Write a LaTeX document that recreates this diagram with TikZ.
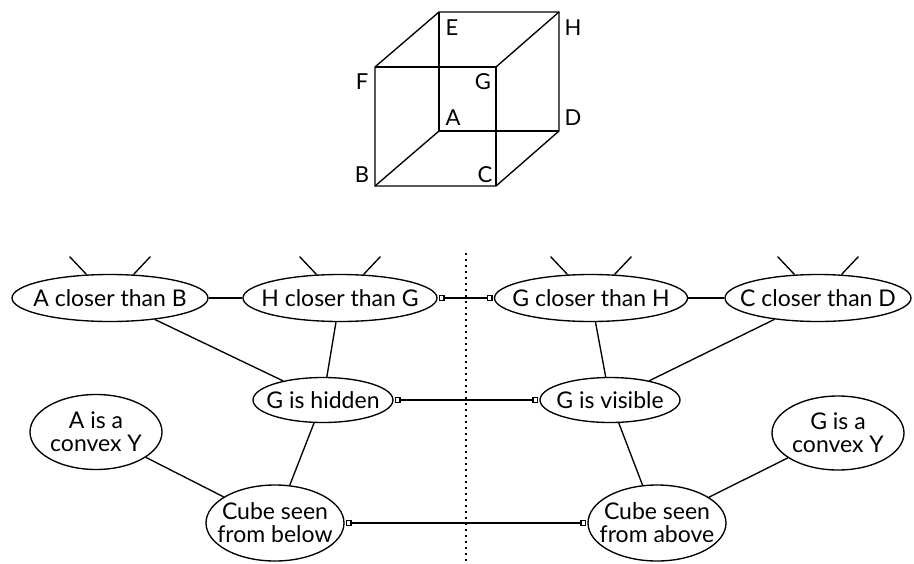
\documentclass[tikz,border=0pt]{standalone}
\usepackage{fontspec}
\setmainfont{Lato}
\usetikzlibrary{shapes.geometric,arrows.meta}

\begin{document}
\begin{tikzpicture}[x=1pt, y=-1pt, line width=1.35pt,
	belief/.style={ellipse, draw, inner xsep=-30pt, inner ysep=-6pt, minimum width=194, minimum height=47, font=\fontsize{23}{23}\selectfont},
	small belief/.style={belief, minimum width=140, minimum height=45},
	two line/.style={belief, align=center, minimum width=138, minimum height=76, font=\fontsize{23}{23}\selectfont},
	vertex label/.style={font=\fontsize{22}{22}\selectfont, inner sep=0pt},
	inhibit/.style={{Square[open,length=6pt,width=6pt]}-{Square[open,length=6pt,width=6pt]}, shorten <=1pt, shorten >=1pt},
	divider/.style={line width=1.5pt, dash pattern=on 1.8pt off 4.2pt}]
	%\draw[help lines] (0,0) grid (914,563);
	\useasboundingbox (0,0) rectangle (914,563);
	% the cube
	\coordinate (A) at (439,131);
	\coordinate (B) at (375,186);
	\coordinate (C) at (496,186);
	\coordinate (D) at (559,131);
	\coordinate (E) at (439,12);
	\coordinate (F) at (375,67);
	\coordinate (G) at (496,67);
	\coordinate (H) at (559,12);
	\draw (B) -- (C) -- (D) -- (H) -- (E) -- (F) -- cycle;
	\draw (F) -- (G) -- (C);
	\draw (G) -- (H);
	\draw (E) -- (A) -- (D);
	\draw (A) -- (B);
	\foreach \v/\x/\y in {A/453/118, B/362/175, C/485/175, D/573/118,
	                      E/452/28, F/362/82, G/483/82, H/573/28}{
	  \node[vertex label] (l\v) at (\x,\y) {\v};
	}
	% the network
	\node[belief, minimum width=196] (acb) at (110,298) {A closer than B};
	\node[belief] (hcg) at (340,298) {H closer than G};
	\node[belief, minimum width=193] (gch) at (591,298) {G closer than H};
	\node[belief, minimum width=186] (ccd) at (818,298) {C closer than D};
	\node[small belief] (hidden) at (323,400) {G is hidden};
	\node[small belief] (visible) at (610,400) {G is visible};
	\node[two line, minimum width=132, minimum height=75] (aconvex) at (96,432) {A is a\\convex Y};
	\node[two line, minimum width=132, minimum height=74] (gconvex) at (838,433) {G is a\\convex Y};
	\node[two line] (below) at (275,523) {Cube seen\\from below};
	\node[two line] (above) at (657,523) {Cube seen\\from above};
	\foreach \n in {acb,hcg,gch,ccd}{
	  \draw (\n.135) -- ++(-17,-18);
	  \draw (\n.45) -- ++(17,-18);
	}
	\draw (acb) -- (hcg);
	\draw (gch) -- (ccd);
	\draw (acb) -- (hidden);
	\draw (hcg) -- (hidden);
	\draw (gch) -- (visible);
	\draw (ccd) -- (visible);
	\draw (hidden) -- (below);
	\draw (aconvex) -- (below);
	\draw (visible) -- (above);
	\draw (gconvex) -- (above);
	\draw[inhibit] (hcg) -- (gch);
	\draw[inhibit] (hidden) -- (visible);
	\draw[inhibit] (below) -- (above);
	\coordinate (divtop) at (466,253);
	\coordinate (divbot) at (466,563);
	\draw[divider] (divtop) -- (divbot);
\end{tikzpicture}
\end{document}
